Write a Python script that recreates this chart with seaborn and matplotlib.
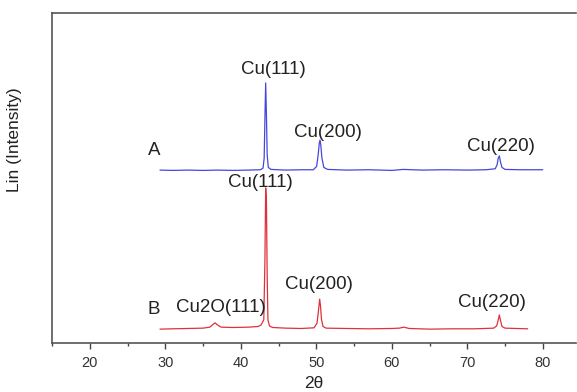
import matplotlib
matplotlib.use("Agg")
import matplotlib.pyplot as plt
from matplotlib.ticker import MultipleLocator
import seaborn as sns
import pandas as pd

# ---- data (intensity in arbitrary units) ----
theta_a = [29.3, 31.0, 33.0, 35.0, 37.0, 39.0, 41.0, 42.6, 42.95, 43.1, 43.2, 43.3, 43.4, 43.5, 43.65, 44.0,
           46.0, 48.0, 49.6, 50.05, 50.25, 50.4, 50.5, 50.6, 50.75, 51.0, 51.5, 54.0, 57.0, 60.0, 61.5,
           64.0, 67.0, 70.0, 72.5, 73.7, 73.95, 74.1, 74.25, 74.4, 74.6, 75.0, 77.0, 80.0]
int_a = [524, 523, 524, 523, 524, 523, 524, 525, 530, 560, 680, 788, 690, 570, 532, 526,
         524, 525, 525, 535, 570, 605, 615, 600, 560, 532, 526, 524, 525, 523, 526,
         524, 525, 524, 525, 528, 540, 560, 567, 548, 532, 526, 525, 525]

theta_b = [29.3, 31.0, 33.0, 35.0, 35.9, 36.3, 36.6, 36.9, 37.4, 39.0, 41.0, 42.3, 42.7, 43.05, 43.2, 43.3,
           43.4, 43.5, 43.6, 43.8, 44.2, 46.0, 48.0, 49.7, 50.1, 50.3, 50.45, 50.55, 50.7, 50.9, 51.3,
           54.0, 57.0, 60.0, 61.0, 61.6, 62.3, 65.0, 68.0, 71.0, 73.5, 73.9, 74.1, 74.25, 74.4, 74.6, 75.0, 76.5, 78.0]
int_b = [42, 43, 44, 45, 48, 56, 61, 55, 48, 47, 48, 50, 55, 70, 250, 470,
         430, 200, 70, 52, 47, 45, 44, 46, 60, 100, 133, 115, 70, 50, 45,
         44, 43, 44, 45, 48, 44, 42, 43, 43, 45, 52, 70, 85, 68, 50, 45, 44, 43]

labels = ["Cu(111)", "Cu(200)", "Cu(220)", "A",
          "Cu(111)", "Cu(200)", "Cu(220)", "Cu2O(111)", "B"]
label_x = [44.3, 51.55, 74.5, 28.5, 42.65, 50.4, 73.3, 37.4, 28.5]
label_y = [830, 637, 594, 583, 485, 176, 124, 108, 100]

xticks = [20, 30, 40, 50, 60, 70, 80]

df_a = pd.DataFrame({"theta": theta_a, "intensity": int_a})
df_b = pd.DataFrame({"theta": theta_b, "intensity": int_b})

sns.set_style("white")
plt.rcParams["font.family"] = ["Liberation Sans", "DejaVu Sans"]

fig = plt.figure(figsize=(5.77, 3.92), dpi=100)
W, H = 577, 392
ax = fig.add_axes([52 / W, (H - 343) / H, (576 - 52) / W, (343 - 13) / H])

sns.lineplot(data=df_a, x="theta", y="intensity", color="#4646dc", linewidth=0.9, ax=ax)
sns.lineplot(data=df_b, x="theta", y="intensity", color="#e0303c", linewidth=0.9, ax=ax)

for t, x, y in zip(labels, label_x, label_y):
    ax.text(x, y, t, ha="center", va="center", fontsize=13.5, color="#222222")

ax.set_xlim(15, 84.4)
ax.set_ylim(0, 1000)
ax.set_xticks(xticks)
ax.xaxis.set_minor_locator(MultipleLocator(5))
ax.set_yticks([])
ax.tick_params(axis="x", which="major", direction="out", length=4, width=1,
               color="#444444", labelsize=10.5, labelcolor="#333333", pad=5.5, bottom=True)
ax.tick_params(axis="x", which="minor", direction="out", length=2.2, width=1,
               color="#444444", bottom=True)

for side in ["left", "bottom", "top"]:
    ax.spines[side].set_color("#555555")
    ax.spines[side].set_linewidth(1.2)
ax.spines["right"].set_visible(False)

ax.set_xlabel("2θ", fontsize=12.5, color="#222222", labelpad=4)
ax.set_ylabel("Lin (Intensity)", fontsize=12.5, color="#222222")
ax.yaxis.set_label_coords(-0.057, 0.615)

fig.savefig("out.png", dpi=100)
